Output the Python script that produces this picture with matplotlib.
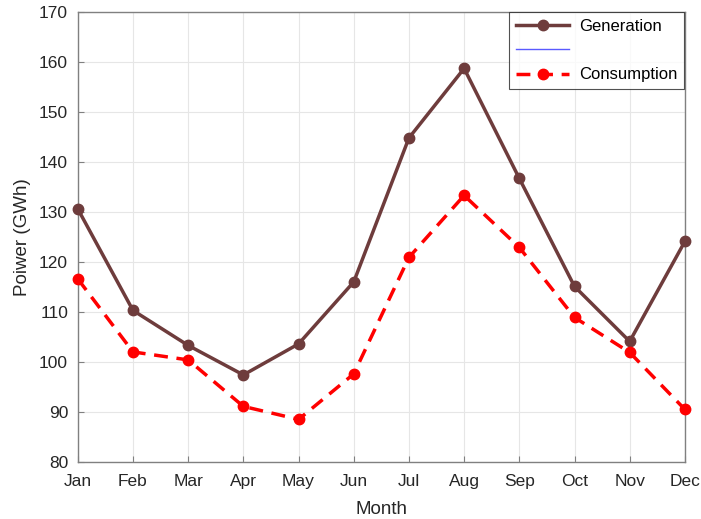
import matplotlib
matplotlib.use('Agg')
import matplotlib.pyplot as plt

months = ['Jan', 'Feb', 'Mar', 'Apr', 'May', 'Jun', 'Jul', 'Aug', 'Sep', 'Oct', 'Nov', 'Dec']
generation = [130.6, 110.3, 103.3, 97.4, 103.6, 116.0, 144.8, 158.7, 136.7, 115.1, 104.1, 124.1]
consumption = [116.6, 102.0, 100.4, 91.1, 88.5, 97.6, 120.9, 133.3, 122.9, 108.9, 101.9, 90.5]
yticks = list(range(80, 171, 10))

plt.rcParams['font.family'] = ['Liberation Sans', 'DejaVu Sans']

fig = plt.figure(figsize=(7.01, 5.19), dpi=100)
ax = fig.add_axes([0.111, 0.110, 0.866, 0.867])

x = list(range(len(months)))
ax.plot(x, generation, '-o', color='#6e3c3c', lw=2.5, ms=7.5, label='Generation', clip_on=False, zorder=3)
ax.plot([], [], '-', color='#5a5aff', lw=1, label=' ')
ax.plot(x, consumption, '--o', color='#ff0000', lw=2.5, ms=7.5, dashes=(4, 2.5), label='Consumption',
        clip_on=False, zorder=3)

ax.set_xlim(0, 11)
ax.set_ylim(80, 170)
ax.set_xticks(x)
ax.set_xticklabels(months)
ax.set_yticks(yticks)
ax.grid(True, color='#e6e6e6', lw=0.8)
ax.set_axisbelow(True)
for s in ax.spines.values():
    s.set_color('#808080')
    s.set_linewidth(1.0)
ax.tick_params(direction='in', length=4, colors='#808080', labelcolor='#262626', labelsize=12.5)
ax.tick_params(axis='x', pad=9)
ax.tick_params(axis='y', pad=7)
ax.set_xlabel('Month', fontsize=13.5, color='#262626', labelpad=8)
ax.set_ylabel('Poiwer (GWh)', fontsize=13.5, color='#262626', labelpad=6)

leg = ax.legend(loc='upper right', fontsize=12, frameon=True, fancybox=False,
                borderaxespad=0.0, handlelength=3.2, labelspacing=0.55, borderpad=0.4,
                handletextpad=0.6, bbox_to_anchor=(0.999, 0.999))
leg.get_frame().set_edgecolor('#262626')
leg.get_frame().set_linewidth(0.8)
leg.set_zorder(5)

fig.savefig('out.png', dpi=100)
